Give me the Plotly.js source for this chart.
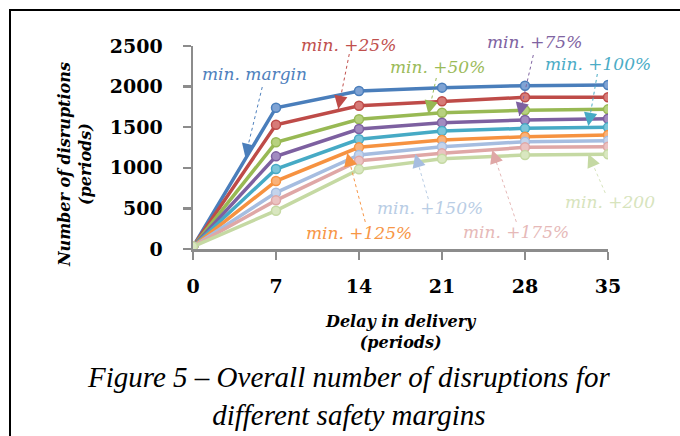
<!DOCTYPE html>
<html>
<head>
<meta charset="utf-8">
<script src="https://cdn.plot.ly/plotly-3.0.1.min.js"></script>
<style>
html,body{margin:0;padding:0;background:#fff;}
#wrap{position:relative;width:680px;height:436px;overflow:hidden;}
#chart{position:absolute;left:0;top:0;width:680px;height:436px;}
#frame{position:absolute;left:9px;top:9px;width:700px;height:460px;border-left:2px solid #000;border-top:2px solid #000;pointer-events:none;}
</style>
</head>
<body>
<div id="wrap"><div id="chart"></div><div id="frame"></div></div>
<script>
// ---- data ----
const delays = [0, 7, 14, 21, 28, 35];
const seriesNames = ['min. margin','min. +25%','min. +50%','min. +75%','min. +100%','min. +125%','min. +150%','min. +175%','min. +200'];
const minMargin = [30, 1740, 1946, 1987, 2011, 2020];
const plus25  = [30, 1531, 1765, 1819, 1868, 1868];
const plus50  = [30, 1314, 1597, 1679, 1708, 1720];
const plus75  = [30, 1141, 1478, 1556, 1589, 1605];
const plus100 = [30, 985, 1351, 1453, 1486, 1498];
const plus125 = [30, 837, 1252, 1342, 1383, 1404];
const plus150 = [30, 694, 1158, 1260, 1322, 1334];
const plus175 = [30, 599, 1088, 1178, 1252, 1260];
const plus200 = [30, 472, 981, 1112, 1158, 1166];
const yTicks = [0, 500, 1000, 1500, 2000, 2500];

// ---- styles ----
const lineColors = ['#4A7EBB','#BE4B48','#98B954','#7D60A0','#46AAC5','#F69240','#A6BDE0','#DFA7A6','#C5D9A3'];
const markerFill = ['#7FA3D4','#D77B78','#B7D17F','#A28BC0','#7CC6DA','#F9B27A','#C4D4EC','#EBC3C2','#D9E7C0'];
const labelColors = ['#4F81BD','#C0504D','#9BBB59','#8064A2','#4BACC6','#F79646','#B9CDE5','#E6B9B8','#D7E4BD'];
const allValues = [minMargin, plus25, plus50, plus75, plus100, plus125, plus150, plus175, plus200];

// label placement (text centre, stem tail, arrow tip) in axis units
const labelText = [[5.17,2155],[13.10,2512],[20.60,2241],[28.78,2549],[34.18,2278],[14.03,197],[20.01,505],[27.27,209],[35.19,579]];
const labelTail = [[5.84,1995],[13.18,2401],[20.52,2106],[28.70,2389],[34.10,2155],[14.53,333],[19.85,616],[27.27,333],[34.77,690]];
const labelTip  = [[4.41,1133],[12.25,1724],[19.85,1663],[27.52,1638],[33.34,1515],[13.01,1182],[18.75,1170],[25.24,1219],[33.34,1170]];
const xMax = 35, yMax = 2500;

const traces = allValues.map((vals, i) => ({
  type: 'scatter', mode: 'lines+markers',
  x: delays, y: vals, name: seriesNames[i],
  line: {color: lineColors[i], width: 3.5},
  marker: {symbol: 'circle', size: 9, color: markerFill[i], line: {color: lineColors[i], width: 1.5}},
  hoverinfo: 'skip'
}));

const annotations = [];
const shapes = [];
seriesNames.forEach((name, i) => {
  annotations.push({
    xref: 'paper', yref: 'paper', x: labelText[i][0] / xMax, y: labelText[i][1] / yMax,
    text: name, showarrow: false, xanchor: 'center', yanchor: 'middle',
    font: {family: 'DejaVu Serif', size: 17, style: 'italic', color: labelColors[i]}
  });
  shapes.push({
    type: 'line', xref: 'x', yref: 'y',
    x0: labelTail[i][0], y0: labelTail[i][1], x1: labelTip[i][0], y1: labelTip[i][1],
    line: {color: labelColors[i], width: 1, dash: 'dot'}
  });
  const f = 0.2;
  annotations.push({
    xref: 'x', yref: 'y', axref: 'x', ayref: 'y',
    x: labelTip[i][0], y: labelTip[i][1],
    ax: labelTip[i][0] + f * (labelTail[i][0] - labelTip[i][0]),
    ay: labelTip[i][1] + f * (labelTail[i][1] - labelTip[i][1]),
    text: '', showarrow: true, arrowhead: 2, arrowsize: 1.9, arrowwidth: 1.4,
    arrowcolor: lineColors[i]
  });
});

// axis titles & caption
annotations.push({
  xref: 'paper', yref: 'paper', x: -0.284, y: 0.414, textangle: -90,
  text: 'Number of disruptions<br>(periods)', showarrow: false,
  xanchor: 'center', yanchor: 'middle',
  font: {family: 'DejaVu Serif', size: 16, style: 'italic', weight: 'bold', color: '#000'}
});
annotations.push({
  xref: 'paper', yref: 'paper', x: 0.502, y: -0.41,
  text: 'Delay in delivery<br>(periods)', showarrow: false,
  xanchor: 'center', yanchor: 'middle',
  font: {family: 'DejaVu Serif', size: 16, style: 'italic', weight: 'bold', color: '#000'}
});
annotations.push({
  xref: 'paper', yref: 'paper', x: 0.375, y: -0.724,
  text: 'Figure 5 – Overall number of disruptions for<br>different safety margins', showarrow: false,
  xanchor: 'center', yanchor: 'middle', align: 'center',
  font: {family: 'Liberation Serif', size: 29, style: 'italic', color: '#000'}
});

const axisGray = '#8C8C8C';
const layout = {
  width: 680, height: 436,
  margin: {l: 192.7, r: 72.3, t: 46, b: 187, pad: 0},
  paper_bgcolor: '#fff', plot_bgcolor: '#fff',
  showlegend: false,
  xaxis: {
    range: [0, xMax], tickvals: delays, ticktext: delays.map(String),
    showgrid: false, zeroline: false, showline: true, linecolor: axisGray, linewidth: 2.5,
    ticks: 'outside', ticklen: 8, tickwidth: 2.5, tickcolor: axisGray,
    ticklabelstandoff: 11,
    tickfont: {family: 'DejaVu Serif', size: 19, weight: 'bold', color: '#000'}
  },
  yaxis: {
    range: [0, yMax], tickvals: yTicks, ticktext: yTicks.map(String),
    showgrid: false, zeroline: false, showline: true, linecolor: axisGray, linewidth: 2.5,
    ticks: 'outside', ticklen: 8, tickwidth: 2.5, tickcolor: axisGray,
    ticklabelstandoff: 16,
    tickfont: {family: 'DejaVu Serif', size: 19, weight: 'bold', color: '#000'}
  },
  annotations: annotations,
  shapes: shapes
};

Plotly.newPlot('chart', traces, layout, {displayModeBar: false, staticPlot: true});
</script>
</body>
</html>
